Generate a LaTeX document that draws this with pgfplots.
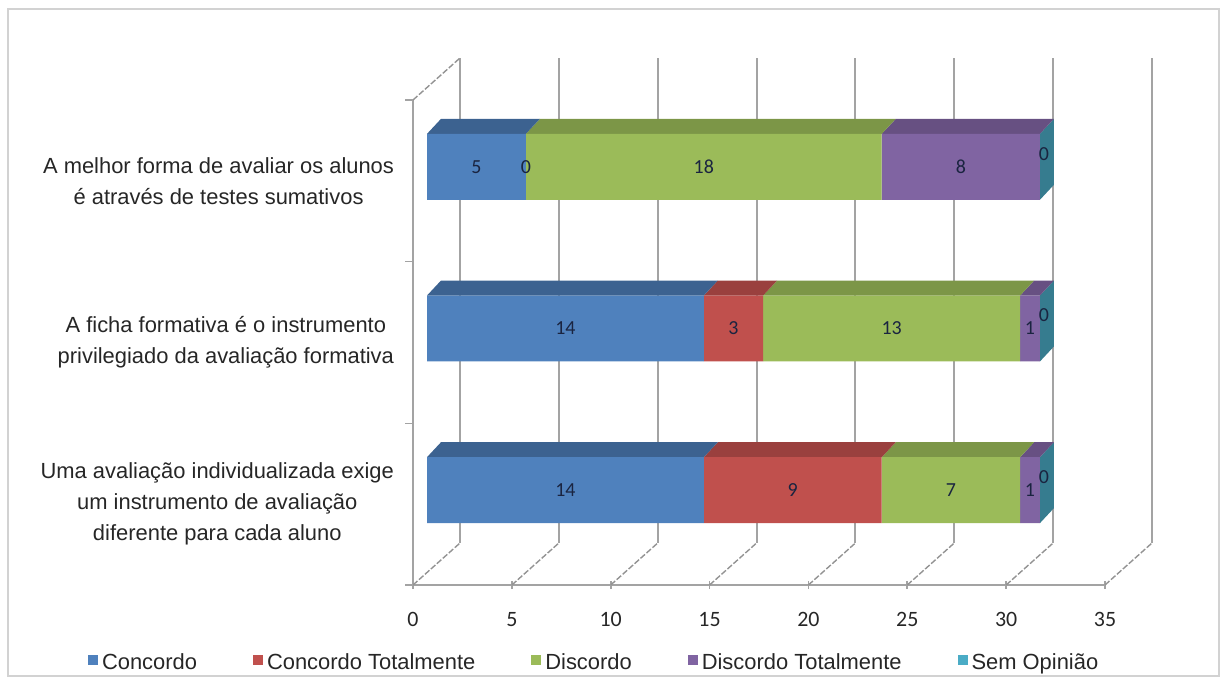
\documentclass[border=0pt]{standalone}
\usepackage{pgfplots}
\pgfplotsset{compat=1.18}
\usepackage{pgfplotstable}
\usepackage{fontspec}
\setmainfont{Liberation Sans}
\newfontfamily\carlito{Carlito}

\definecolor{cC}{HTML}{4F81BD}
\definecolor{cCT}{HTML}{C0504D}
\definecolor{cD}{HTML}{9BBB59}
\definecolor{cDT}{HTML}{8064A2}
\definecolor{cSO}{HTML}{4BACC6}
\colorlet{cCtop}{cC!76!black}
\colorlet{cCTtop}{cCT!80!black}
\colorlet{cDtop}{cD!80!black}
\colorlet{cDTtop}{cDT!80!black}
\colorlet{cSOside}{cSO!72!black}
\definecolor{gridgray}{HTML}{A3A3A3}
\definecolor{labelink}{HTML}{1A2440}

% survey answers, one row per statement (y = vertical position)
\pgfplotstableread{
y C CT D DT SO
2 5 0 18 8 0
1 14 3 13 1 0
0 14 9 7 1 0
}\survey

% top face of one bar segment (from, to, colour)
\newcommand\topface[3]{%
  \ifdim #1pt<#2pt
    \edef\tmp{\noexpand\fill[#3] (axis cs:#1,\yt) -- (axis cs:#2,\yt)
      -- ([shift={(7bp,7.5bp)}]axis cs:#2,\yt)
      -- ([shift={(7bp,7.5bp)}]axis cs:#1,\yt) -- cycle;}%
    \tmp
  \fi}

% depth faces of the stacked bar in table row #1
\newcommand\barfaces[1]{%
  \pgfplotstablegetelem{#1}{y}\of\survey \edef\ry{\pgfplotsretval}%
  \pgfplotstablegetelem{#1}{C}\of\survey \edef\va{\pgfplotsretval}%
  \pgfplotstablegetelem{#1}{CT}\of\survey \edef\vb{\pgfplotsretval}%
  \pgfplotstablegetelem{#1}{D}\of\survey \edef\vc{\pgfplotsretval}%
  \pgfplotstablegetelem{#1}{DT}\of\survey \edef\vd{\pgfplotsretval}%
  \pgfplotstablegetelem{#1}{SO}\of\survey \edef\ve{\pgfplotsretval}%
  \pgfmathsetmacro\sa{\va}%
  \pgfmathsetmacro\sb{\sa+\vb}%
  \pgfmathsetmacro\sc{\sb+\vc}%
  \pgfmathsetmacro\sd{\sc+\vd}%
  \pgfmathsetmacro\se{\sd+\ve}%
  \pgfmathsetmacro\yt{\ry+0.204}%
  \pgfmathsetmacro\yb{\ry-0.204}%
  \topface{0}{\sa}{cCtop}%
  \topface{\sa}{\sb}{cCTtop}%
  \topface{\sb}{\sc}{cDtop}%
  \topface{\sc}{\sd}{cDTtop}%
  \topface{\sd}{\se}{cSOside}%
  \edef\tmp{\noexpand\fill[cSOside] (axis cs:\se,\yb) -- (axis cs:\se,\yt)
    -- ([shift={(7bp,7.5bp)}]axis cs:\se,\yt)
    -- ([shift={(7bp,7.5bp)}]axis cs:\se,\yb) -- cycle;}%
  \tmp}

\pgfplotsset{
  panel/.style={anchor=south west, scale only axis, width=346bp, height=242.5bp,
    xmin=0, xmax=35, ymin=-0.5, ymax=2.5, clip=false},
  labelplot/.style={only marks, mark=none, nodes near coords, point meta=explicit,
    nodes near coords align=center,
    /pgf/number format/assume math mode=true,
    every node near coord/.append style={font=\carlito\fontsize{10}{12}\selectfont, text=labelink}},
}

\begin{document}
\begin{tikzpicture}
\useasboundingbox (0,0) rectangle (613.5bp,-340bp);
\draw[gray!35, line width=1bp] (4bp,-4.5bp) rectangle (609.5bp,-338bp);

% back wall with the value grid
\begin{axis}[panel, at={(230bp,-271.5bp)},
  separate axis lines, axis line style={draw=none}, tick style={draw=none},
  xtick={0,5,...,35}, xticklabels={}, ytick=\empty,
  xmajorgrids, grid style={draw=gridgray, line width=1bp}]
\end{axis}

% front edges, floor, ticks and category names
\begin{axis}[panel, at={(206.5bp,-292.5bp)},
  axis x line*=bottom, axis y line*=left,
  axis line style={draw=gridgray, line width=1bp, -},
  xtick={0,5,...,35}, xtick align=center, major tick length=4bp,
  tick style={draw=gridgray, line width=0.8bp},
  /pgf/number format/assume math mode=true,
  xticklabel style={font=\carlito\fontsize{11}{13}\selectfont, text=black!85, yshift=-8bp},
  ytick={0,1,2}, ytick style={draw=none},
  yticklabels={{Uma avaliação individualizada exige\\um instrumento de avaliação\\diferente para cada aluno},
    {A ficha formativa é o instrumento\\privilegiado da avaliação formativa},
    {A melhor forma de avaliar os alunos\\é através de testes sumativos}},
  yticklabel style={align=center, font=\fontsize{11}{15.5}\selectfont, text=black!85, xshift=-6bp}]
  \pgfplotsinvokeforeach{0,5,...,35}{%
    \draw[gridgray!90!black, line width=0.7bp, dash pattern=on 3bp off 1bp]
      (axis cs:#1,-0.5) -- ([shift={(23.5bp,21bp)}]axis cs:#1,-0.5);}
  \draw[gridgray!90!black, line width=0.7bp, dash pattern=on 3bp off 1bp]
    (axis cs:0,2.5) -- ([shift={(23.5bp,21bp)}]axis cs:0,2.5);
  \pgfplotsinvokeforeach{-0.5,0.5,1.5,2.5}{%
    \draw[gridgray, line width=0.8bp] (axis cs:0,#1) -- ([xshift=-4bp]axis cs:0,#1);}
\end{axis}

% stacked bars
\begin{axis}[panel, at={(213.5bp,-285.5bp)}, hide axis,
  xbar stacked, bar width=0.408,
  every axis plot/.append style={draw=none,
    legend image code/.code={\fill[##1] (0bp,-1bp) rectangle (5bp,4bp);}},
  legend style={at={(axis description cs:0.243,-0.19)}, anchor=center,
    draw=none, fill=none, legend columns=5,
    font=\fontsize{11}{13}\selectfont, text=black!85,
    /tikz/every even column/.append style={column sep=26bp}}]
  \addplot[fill=cC] table[x=C, y=y]{\survey};
  \addplot[fill=cCT] table[x=CT, y=y]{\survey};
  \addplot[fill=cD] table[x=D, y=y]{\survey};
  \addplot[fill=cDT] table[x=DT, y=y]{\survey};
  \addplot[fill=cSO] table[x=SO, y=y]{\survey};
  \legend{Concordo, Concordo Totalmente, Discordo, Discordo Totalmente, Sem Opinião}
  \barfaces{0}\barfaces{1}\barfaces{2}
\end{axis}

% segment values
\begin{axis}[panel, at={(213.5bp,-285.5bp)}, hide axis]
  \addplot[labelplot] table[x expr=\thisrow{C}/2, y=y, meta=C]{\survey};
  \addplot[labelplot] table[x expr=\thisrow{C}+\thisrow{CT}/2, y=y, meta=CT]{\survey};
  \addplot[labelplot] table[x expr=\thisrow{C}+\thisrow{CT}+\thisrow{D}/2, y=y, meta=D]{\survey};
  \addplot[labelplot] table[x expr=\thisrow{C}+\thisrow{CT}+\thisrow{D}+\thisrow{DT}/2, y=y, meta=DT]{\survey};
  \addplot[labelplot, every node near coord/.append style={xshift=2bp, yshift=6.5bp}]
    table[x expr=\thisrow{C}+\thisrow{CT}+\thisrow{D}+\thisrow{DT}+\thisrow{SO}/2, y=y, meta=SO]{\survey};
\end{axis}
\end{tikzpicture}
\end{document}
